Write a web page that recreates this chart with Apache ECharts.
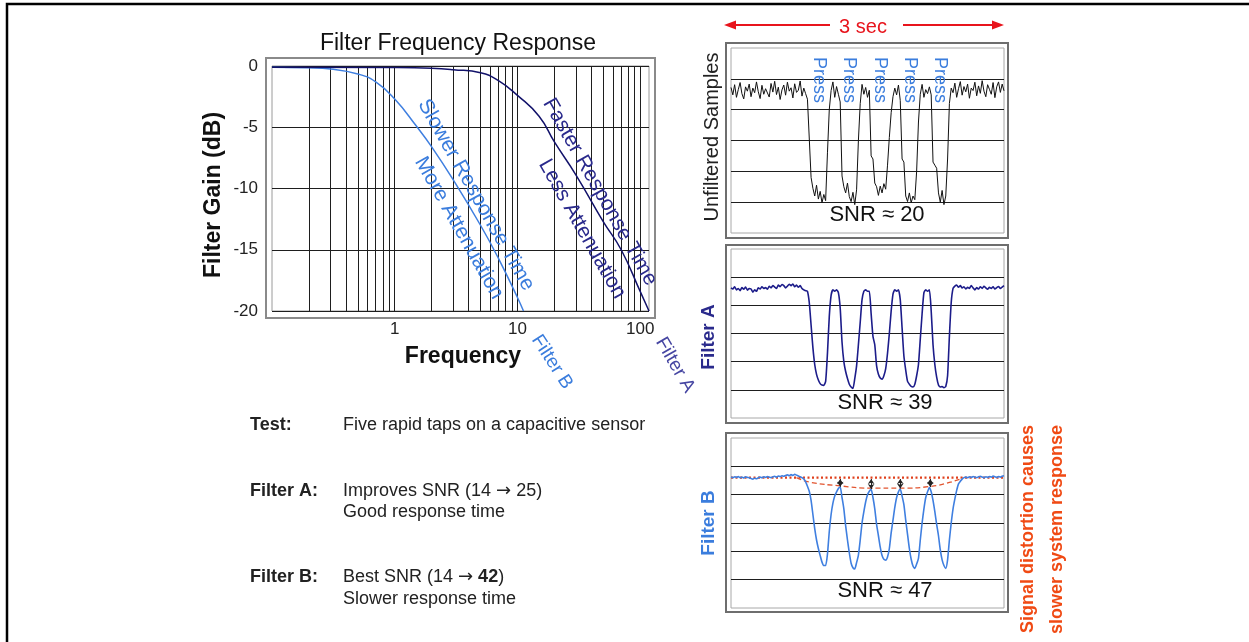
<!DOCTYPE html>
<html><head><meta charset="utf-8">
<script src="https://cdn.jsdelivr.net/npm/echarts/dist/echarts.min.js"></script>
<style>html,body{margin:0;padding:0;background:#fff}#c{width:1249px;height:642px}</style>
</head><body><div id="c"></div>
<script>
// ---------- data ----------
const freqB = [0.1, 0.2, 0.3, 0.5, 0.7, 1, 1.5, 2, 3, 5, 7, 10, 11.2];
const gainB = [-0.1, -0.15, -0.25, -0.65, -1.3, -2.7, -4.9, -6.6, -9.3, -13.0, -15.7, -18.9, -20];
const freqA = [0.1, 1, 2, 3, 5, 7, 10, 15, 20, 30, 50, 70, 100, 118];
const gainA = [-0.1, -0.12, -0.18, -0.3, -0.55, -1.2, -2.4, -4.1, -6.2, -8.9, -12.7, -15.0, -18.4, -20];
const minorFreqs = [0.2,0.3,0.4,0.5,0.6,0.7,0.8,0.9,2,3,4,5,6,7,8,9,20,30,40,50,60,70,80,90];
const gainTicks = [0, -5, -10, -15, -20];

const sampleStep = 0.02; // seconds per sample, 0..3 s
const rawSamples = [
4.72,4.48,4.81,4.40,4.65,4.88,4.52,4.35,4.74,4.60,
4.83,4.42,4.70,4.55,4.90,4.58,4.36,4.79,4.50,4.68,
4.62,4.41,4.85,4.57,4.92,4.49,4.73,4.33,4.64,4.80,
4.47,4.89,4.60,4.71,4.38,4.84,4.56,4.63,4.93,4.44,
4.70,4.52,4.34,
4.40,1.80,1.45,1.20,1.55,1.10,1.35,0.98,1.25,1.05,
2.60,4.00,4.62,4.90,4.40,4.75,4.50,4.25,1.85,1.50,
1.30,1.62,1.18,1.02,1.32,0.92,1.40,3.00,4.20,4.82,
4.50,4.72,4.40,4.63,2.50,2.40,1.62,1.50,1.22,1.52,
1.30,1.60,1.42,2.20,3.10,3.90,4.42,4.70,4.48,4.80,
4.30,2.40,2.30,1.20,1.02,1.30,0.98,1.20,1.08,2.00,
3.60,4.50,4.82,4.40,4.65,4.52,4.74,4.48,2.30,2.20,
2.10,1.30,1.00,1.38,0.92,1.20,2.40,4.20,4.70,
4.55,4.86,4.40,4.68,4.91,4.47,4.75,4.58,4.83,4.37,
4.70,4.62,4.89,4.45,4.77,4.53,4.94,4.60,4.42,4.81,
4.66,4.50,4.88,4.39,4.74,4.90,4.56,4.83,4.61
];
const filterASamples = [
4.62,4.58,4.66,4.55,4.60,4.52,4.63,4.57,4.65,4.54,
4.60,4.58,4.47,4.55,4.50,4.62,4.58,4.66,4.60,4.63,
4.57,4.68,4.62,4.70,4.65,4.60,4.72,4.66,4.74,4.70,
4.62,4.68,4.75,4.70,4.76,4.66,4.72,4.64,4.70,4.60,
4.55,4.52,
4.50,4.10,3.30,2.50,1.90,1.55,1.35,1.22,1.17,1.16,
1.30,2.30,3.60,4.35,4.55,4.50,4.55,4.45,3.90,2.70,
2.00,1.65,1.40,1.20,1.10,1.05,1.40,1.85,2.60,3.40,
4.20,4.50,4.55,4.50,4.50,3.70,2.90,2.60,1.85,1.55,
1.42,1.38,1.50,1.75,2.30,3.00,3.80,4.40,4.55,4.50,
4.55,4.20,3.20,2.20,1.70,1.30,1.20,1.12,1.10,1.20,
1.50,1.90,2.80,3.70,4.45,4.55,4.50,4.55,3.80,2.60,
1.90,1.45,1.17,1.10,1.12,1.08,1.12,1.50,2.90,4.10,
4.60,
4.68,4.72,4.64,4.70,4.62,4.66,4.58,4.64,4.60,4.70,
4.62,4.55,4.63,4.58,4.66,4.60,4.68,4.62,4.57,4.64,
4.60,4.66,4.58,4.63,4.67,4.60,4.65,4.70
];
const filterBSamples = [
4.62,4.60,4.63,4.61,4.64,4.60,4.62,4.59,4.63,4.61,
4.60,4.57,4.55,4.58,4.56,4.60,4.62,4.60,4.63,4.61,
4.64,4.62,4.60,4.63,4.65,4.62,4.66,4.64,4.67,4.65,
4.68,4.70,4.67,4.71,4.68,4.72,4.69,4.66,4.63,
4.60,4.55,4.45,4.30,4.12,3.80,3.30,2.80,2.40,2.10,
1.85,1.62,1.50,1.50,1.90,2.70,3.30,3.70,3.95,4.10,
4.22,4.27,3.90,3.50,2.90,2.40,1.95,1.58,1.42,1.38,
1.60,1.87,2.40,3.00,3.40,3.75,4.00,4.12,4.19,3.90,
3.50,2.95,2.55,2.15,1.85,1.72,1.69,1.80,2.10,2.65,
3.10,3.55,3.90,4.10,4.20,3.95,3.65,3.10,2.60,2.10,
1.72,1.48,1.40,1.55,1.75,2.40,3.00,3.50,3.90,4.10,
4.25,4.10,3.80,3.40,2.95,2.55,2.05,1.70,1.50,1.40,
1.70,2.40,3.00,3.50,3.85,4.15,4.38,4.47,4.55,4.60,
4.62,4.60,4.63,4.61,4.64,4.62,4.60,4.63,4.65,4.62,
4.60,4.63,4.61,4.64,4.62,4.66,4.63,4.61,4.64,4.62,
4.65,4.67
];
const restLevel = 4.6;
const distortT = [0.72, 0.87, 1.2, 1.53, 1.86, 2.19, 2.41, 2.55];
const distortV = [4.6, 4.44, 4.31, 4.23, 4.23, 4.29, 4.44, 4.59];
const peakTimes = [1.2, 1.54, 1.86, 2.19];
const peakLevels = [4.28, 4.2, 4.22, 4.27];
const snrLabels = ['SNR \u2248 20', 'SNR \u2248 39', 'SNR \u2248 47'];

// ---------- chart ----------
const FF = '"Liberation Sans", Arial, sans-serif';
const chart = echarts.init(document.getElementById('c'), null, {renderer: 'canvas'});
const toXY = (arr) => arr.map((v, i) => [+(i * sampleStep).toFixed(3), v]);

function panelGrid(top, h) {
  return {left: 731, top: top, width: 273, height: h, show: true, borderColor: '#a8a8a8', borderWidth: 1,
          containLabel: false, outerBoundsMode: 'none'};
}
function panelX(idx) {
  return {type: 'value', gridIndex: idx, min: 0, max: 3, show: true,
          axisLine: {show: false}, axisTick: {show: false}, axisLabel: {show: false}, splitLine: {show: false}};
}
function panelY(idx) {
  return {type: 'value', gridIndex: idx, min: 0, max: 6, interval: 1,
          axisLine: {show: false}, axisTick: {show: false}, axisLabel: {show: false},
          splitLine: {show: true, showMinLine: false, showMaxLine: false, lineStyle: {color: '#1e1e1e', width: 1}}};
}

const blueB = '#3b7ddd';
const navyA = '#2a2a8c';
const D = Math.PI / 180;

function txt(x, y, text, font, fill, align) {
  return {type: 'text', x: x, y: y, z: 10,
    style: {text: text, font: font, fill: fill, align: align || 'center', verticalAlign: 'middle'}};
}
function rtxt(x, y, rot, text, font, fill, align) {
  return {type: 'text', x: x, y: y, rotation: rot, z: 10,
    style: {text: text, font: font, fill: fill, align: align || 'center', verticalAlign: 'middle'}};
}
const noteRich = {
  a: {fontFamily: 'DejaVu Sans', fontSize: 18, fill: '#222'},
  b: {fontWeight: 'bold', fontSize: 18, fontFamily: 'Liberation Sans', fill: '#222'}
};
function richTxt(x, y, text) {
  return {type: 'text', x: x, y: y, z: 10,
    style: {text: text, font: '18px ' + FF, fill: '#222', align: 'left', verticalAlign: 'middle', rich: noteRich}};
}

const graphics = [
  // page border
  {type: 'polyline', shape: {points: [[7, 642], [7, 4], [1249, 4]]}, style: {stroke: '#000', lineWidth: 2.5, fill: null}},
  // frames
  {type: 'rect', shape: {x: 266, y: 58, width: 389, height: 260}, style: {stroke: '#8a8a8a', lineWidth: 2, fill: null}},
  {type: 'rect', shape: {x: 726, y: 43, width: 282, height: 195}, style: {stroke: '#6e6e6e', lineWidth: 2, fill: null}},
  {type: 'rect', shape: {x: 726, y: 245, width: 282, height: 178}, style: {stroke: '#6e6e6e', lineWidth: 2, fill: null}},
  {type: 'rect', shape: {x: 726, y: 433, width: 282, height: 179}, style: {stroke: '#6e6e6e', lineWidth: 2, fill: null}},
  // 3 sec arrows
  {type: 'line', shape: {x1: 732, y1: 25, x2: 830, y2: 25}, style: {stroke: '#e8141c', lineWidth: 2}},
  {type: 'polygon', shape: {points: [[724, 25], [736, 20.5], [736, 29.5]]}, style: {fill: '#e8141c'}},
  {type: 'line', shape: {x1: 903, y1: 25, x2: 996, y2: 25}, style: {stroke: '#e8141c', lineWidth: 2}},
  {type: 'polygon', shape: {points: [[1004, 25], [992, 20.5], [992, 29.5]]}, style: {fill: '#e8141c'}},
  txt(863, 27, '3 sec', '20px ' + FF, '#e8141c'),
  // left chart texts
  txt(458, 44, 'Filter Frequency Response', '23px ' + FF, '#111'),
  rtxt(214, 195, 90 * D, 'Filter Gain (dB)', 'bold 23px ' + FF, '#111'),
  txt(463, 357, 'Frequency', 'bold 23px ' + FF, '#111'),
  rtxt(552, 362, -57 * D, 'Filter B', '19px ' + FF, blueB),
  rtxt(675, 365, -60 * D, 'Filter A', '19px ' + FF, '#4646a2'),
  rtxt(476, 195, -60.5 * D, 'Slower Response Time', '21px ' + FF, blueB),
  rtxt(459, 228, -60.5 * D, 'More Attenuation', '21px ' + FF, blueB),
  rtxt(600, 192, -60.5 * D, 'Faster Response Time', '21px ' + FF, navyA),
  rtxt(582, 229, -60.5 * D, 'Less Attenuation', '21px ' + FF, navyA),
  // notes
  txt(250, 425, 'Test:', 'bold 18px ' + FF, '#222', 'left'),
  txt(343, 425, 'Five rapid taps on a capacitive sensor', '18px ' + FF, '#222', 'left'),
  txt(250, 491, 'Filter A:', 'bold 18px ' + FF, '#222', 'left'),
  richTxt(343, 491, 'Improves SNR (14 {a|\u2192} 25)'),
  txt(343, 512, 'Good response time', '18px ' + FF, '#222', 'left'),
  txt(250, 577, 'Filter B:', 'bold 18px ' + FF, '#222', 'left'),
  richTxt(343, 577, 'Best SNR (14 {a|\u2192} {b|42})'),
  txt(343, 599, 'Slower response time', '18px ' + FF, '#222', 'left'),
  // right side labels
  rtxt(712, 137, 90 * D, 'Unfiltered Samples', '20px ' + FF, '#222'),
  rtxt(709, 337, 90 * D, 'Filter A', 'bold 19px ' + FF, navyA),
  rtxt(709, 523, 90 * D, 'Filter B', 'bold 19px ' + FF, blueB),
  rtxt(1028, 425, 90 * D, 'Signal distortion causes', 'bold 18px ' + FF, '#f04a14', 'right'),
  rtxt(1057, 425, 90 * D, 'slower system response', 'bold 18px ' + FF, '#f04a14', 'right'),
  txt(877, 215, snrLabels[0], '22px ' + FF, '#111'),
  txt(885, 403, snrLabels[1], '22px ' + FF, '#111'),
  txt(885, 591, snrLabels[2], '22px ' + FF, '#111')
];
[819, 849, 880, 910, 940].forEach(function (x) {
  graphics.push(rtxt(x, 80, -90 * D, 'Press', '18px ' + FF, '#3b7ddd'));
});

const option = {
  animation: false,
  backgroundColor: '#fff',
  grid: [
    {left: 272, top: 66, width: 377, height: 245, show: true, borderColor: '#9a9a9a', borderWidth: 1, containLabel: false, outerBoundsMode: 'none'},
    panelGrid(48, 185),
    panelGrid(249, 169),
    panelGrid(438, 170)
  ],
  xAxis: [
    {type: 'log', gridIndex: 0, min: 0.1, max: 118, logBase: 10,
     axisLine: {show: false}, axisTick: {show: false},
     axisLabel: {show: true, showMinLabel: false, showMaxLabel: false, fontSize: 17, fontFamily: 'Liberation Sans', color: '#222', margin: 10,
                 formatter: function (v) { return String(Math.round(v)); }},
     splitLine: {show: true, showMinLine: false, showMaxLine: false, lineStyle: {color: '#1e1e1e', width: 1}}},
    panelX(1), panelX(2), panelX(3)
  ],
  yAxis: [
    {type: 'value', gridIndex: 0, min: gainTicks[4], max: gainTicks[0], interval: 5,
     axisLine: {show: false}, axisTick: {show: false},
     axisLabel: {fontSize: 17, fontFamily: 'Liberation Sans', color: '#222', margin: 14},
     splitLine: {show: true, lineStyle: {color: '#1e1e1e', width: 1}}},
    panelY(1), panelY(2), panelY(3)
  ],
  series: [
    {type: 'line', xAxisIndex: 0, yAxisIndex: 0, data: [], silent: true,
     markLine: {silent: true, symbol: ['none', 'none'], label: {show: false},
       lineStyle: {color: '#1e1e1e', width: 1, type: 'solid'},
       emphasis: {disabled: true},
       data: minorFreqs.map(function (f) { return {xAxis: f}; })}},
    {type: 'line', name: 'Filter B', xAxisIndex: 0, yAxisIndex: 0, smooth: true, showSymbol: false, symbol: 'none',
     lineStyle: {color: '#3f7fe0', width: 1.5}, z: 5,
     data: freqB.map(function (f, i) { return [f, gainB[i]]; })},
    {type: 'line', name: 'Filter A', xAxisIndex: 0, yAxisIndex: 0, smooth: true, showSymbol: false, symbol: 'none',
     lineStyle: {color: '#12126a', width: 1.5}, z: 5,
     data: freqA.map(function (f, i) { return [f, gainA[i]]; })},
    {type: 'line', xAxisIndex: 1, yAxisIndex: 1, showSymbol: false, symbol: 'none',
     lineStyle: {color: '#111', width: 1}, data: toXY(rawSamples)},
    {type: 'line', xAxisIndex: 2, yAxisIndex: 2, showSymbol: false, symbol: 'none', smooth: 0.2,
     lineStyle: {color: '#1c1c8a', width: 1.6}, data: toXY(filterASamples)},
    {type: 'line', xAxisIndex: 3, yAxisIndex: 3, showSymbol: false, symbol: 'none',
     lineStyle: {color: '#e0401c', width: 2.2, type: [2, 2.5]}, z: 3,
     data: [[0, restLevel], [3, restLevel]],
     markLine: {silent: true, symbol: ['arrow', 'arrow'], symbolSize: [5, 5], label: {show: false},
       lineStyle: {color: '#222', width: 1, type: 'solid'},
       data: peakTimes.map(function (t, i) { return [{coord: [t, restLevel - 0.05]}, {coord: [t, peakLevels[i]]}]; })}},
    {type: 'line', xAxisIndex: 3, yAxisIndex: 3, showSymbol: false, symbol: 'none', smooth: true,
     lineStyle: {color: '#e25530', width: 1.3, type: [5, 3]}, z: 3,
     data: distortT.map(function (t, i) { return [t, distortV[i]]; })},
    {type: 'line', xAxisIndex: 3, yAxisIndex: 3, showSymbol: false, symbol: 'none', smooth: 0.2,
     lineStyle: {color: '#3f7fe0', width: 1.6}, z: 4, data: toXY(filterBSamples)}
  ],
  graphic: graphics
};
chart.setOption(option);
</script></body></html>
